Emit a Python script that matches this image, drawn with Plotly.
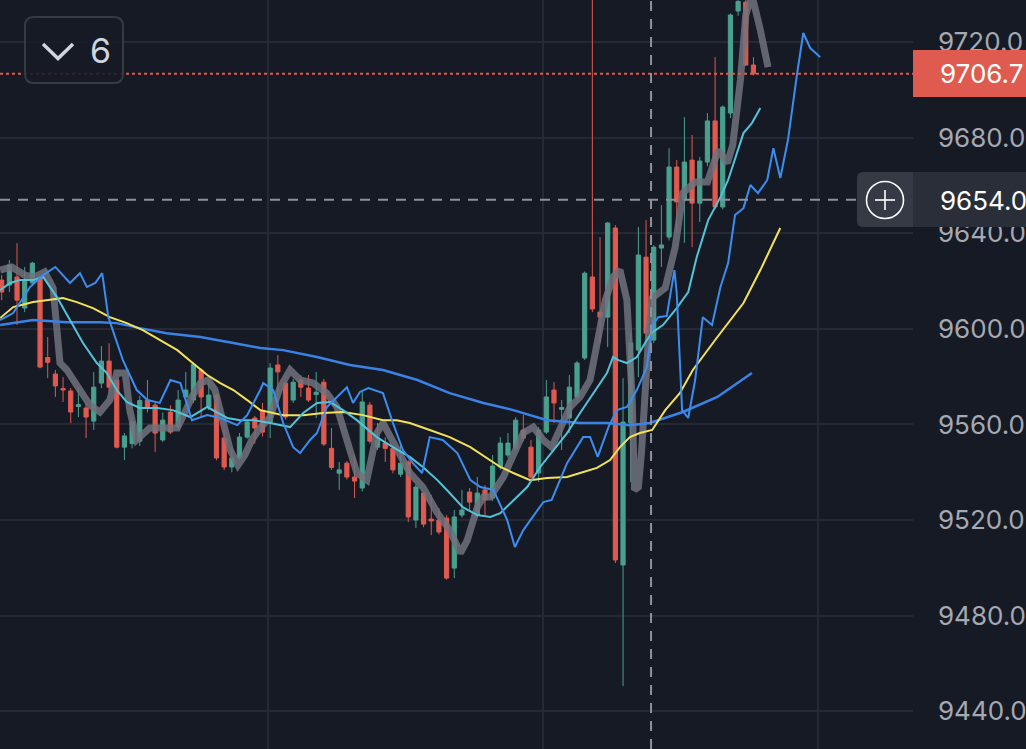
import plotly.graph_objects as go

W, H = 1026, 749
PLOT_W = 913

# ---------------- candle data (index 0..98) ----------------
opens = [9620.4, 9618.3, 9621.7, 9608.7, 9619.2, 9621.7, 9588.0, 9581.1, 9575.0, 9574.0,
         9567.5, 9566.9, 9561.4, 9577.3, 9586.5, 9578.6, 9550.5, 9552.0, 9553.0, 9570.2,
         9568.1, 9553.5, 9565.2, 9559.0, 9571.5, 9570.2, 9582.8, 9567.3, 9572.3, 9554.3,
         9542.2, 9546.0, 9554.7, 9562.7, 9566.0, 9561.0, 9584.9, 9577.3, 9570.2, 9578.6,
         9575.2, 9572.5, 9577.7, 9550.0, 9539.6, 9543.8, 9538.0, 9533.4, 9568.1, 9550.5,
         9552.2, 9550.0, 9539.2, 9544.3, 9520.0, 9531.3, 9520.4, 9520.0, 9520.8, 9499.9,
         9522.1, 9531.7, 9522.1, 9532.6, 9529.2, 9542.2, 9547.2, 9550.1, 9557.7, 9550.5,
         9539.7, 9556.8, 9574.4, 9566.3, 9562.7, 9571.5, 9587.8, 9621.7, 9607.0, 9604.9,
         9642.2, 9501.2, 9560.6, 9591.1, 9630.0, 9595.3, 9633.8, 9638.4, 9667.7, 9653.9,
         9670.6, 9652.6, 9669.8, 9687.0, 9651.0, 9690.3, 9733.0, 9736.7, 9710.4]
highs = [9622.5, 9628.8, 9635.9, 9625.9, 9628.0, 9622.0, 9596.6, 9582.8, 9579.8, 9575.2,
         9575.6, 9569.0, 9581.9, 9592.8, 9594.0, 9579.0, 9556.4, 9563.0, 9572.0, 9578.6,
         9569.0, 9565.0, 9568.0, 9574.4, 9582.0, 9586.0, 9583.5, 9578.6, 9573.0, 9557.7,
         9550.5, 9556.4, 9562.0, 9563.5, 9569.0, 9585.7, 9589.0, 9578.0, 9579.0, 9580.7,
         9580.7, 9581.9, 9579.0, 9558.5, 9544.3, 9544.7, 9547.2, 9573.6, 9569.4, 9560.6,
         9554.7, 9551.0, 9551.4, 9545.0, 9535.0, 9531.5, 9530.5, 9525.0, 9522.0, 9524.2,
         9532.6, 9533.4, 9538.0, 9534.6, 9547.2, 9554.7, 9556.4, 9563.0, 9564.0, 9553.5,
         9558.9, 9578.6, 9577.7, 9570.2, 9580.7, 9586.5, 9624.0, 9745.0, 9638.4, 9644.7,
         9643.4, 9579.4, 9598.2, 9642.6, 9645.5, 9635.0, 9651.8, 9675.6, 9670.6, 9688.6,
         9681.1, 9671.9, 9690.3, 9713.7, 9693.5, 9732.0, 9740.0, 9740.0, 9713.7]
lows = [9612.0, 9615.4, 9601.6, 9607.0, 9618.0, 9583.5, 9579.4, 9571.5, 9569.4, 9560.6,
        9563.1, 9554.3, 9557.7, 9575.2, 9573.6, 9550.0, 9545.1, 9550.0, 9551.0, 9565.0,
        9548.5, 9552.7, 9556.0, 9558.0, 9570.0, 9569.0, 9562.7, 9566.0, 9545.0, 9540.9,
        9540.0, 9545.0, 9554.0, 9552.0, 9555.0, 9554.3, 9567.0, 9562.0, 9569.0, 9571.5,
        9569.4, 9562.7, 9551.0, 9541.0, 9532.6, 9537.0, 9529.2, 9532.0, 9552.0, 9549.3,
        9544.3, 9539.6, 9538.0, 9519.2, 9516.7, 9517.0, 9513.7, 9514.0, 9495.0, 9495.7,
        9521.0, 9524.2, 9521.0, 9522.0, 9528.0, 9541.0, 9546.0, 9549.0, 9553.0, 9537.0,
        9535.9, 9556.0, 9560.6, 9549.3, 9556.4, 9570.0, 9587.0, 9607.0, 9594.0, 9592.4,
        9502.0, 9450.5, 9535.9, 9579.8, 9596.2, 9594.0, 9625.9, 9637.0, 9640.1, 9636.0,
        9634.2, 9644.7, 9668.0, 9650.0, 9650.0, 9688.2, 9731.0, 9710.0, 9706.0]
closes = [9615.4, 9626.7, 9612.0, 9620.4, 9627.5, 9584.0, 9586.0, 9576.1, 9574.4, 9565.2,
          9568.3, 9563.1, 9575.6, 9586.5, 9575.6, 9550.5, 9555.2, 9561.0, 9570.0, 9567.3,
          9556.4, 9561.8, 9556.8, 9570.2, 9574.4, 9585.1, 9571.5, 9572.3, 9546.0, 9542.2,
          9546.0, 9554.7, 9561.0, 9558.5, 9556.8, 9583.6, 9582.0, 9563.1, 9577.7, 9575.6,
          9570.2, 9573.5, 9551.8, 9542.0, 9541.0, 9538.0, 9536.3, 9569.4, 9553.0, 9553.5,
          9550.0, 9541.0, 9543.8, 9521.3, 9533.8, 9518.3, 9519.6, 9515.0, 9495.7, 9521.3,
          9524.2, 9527.5, 9531.3, 9528.4, 9542.6, 9552.2, 9552.2, 9561.8, 9554.3, 9538.0,
          9557.7, 9571.5, 9569.0, 9567.1, 9575.6, 9585.7, 9623.3, 9608.3, 9604.9, 9644.3,
          9503.3, 9561.0, 9594.1, 9630.9, 9598.2, 9634.2, 9635.1, 9667.7, 9653.1, 9669.8,
          9652.6, 9670.2, 9687.0, 9651.0, 9692.8, 9731.3, 9737.0, 9710.4, 9706.7]
bar_index = list(range(len(opens)))

# ---------------- indicator lines ----------------
gray_x = [-0.2, 1.3, 3.0, 4.3, 5.6, 6.7, 7.6, 8.5, 9.95, 11.5, 12.8, 14.1, 15.0, 16.1, 16.7,
          17.6, 19.3, 21.3, 22.9, 23.9, 24.8, 25.9, 26.9, 27.8, 28.7, 29.8, 30.8, 31.7, 32.6,
          33.7, 35.0, 36.3, 37.6, 38.9, 40.6, 42.4, 43.7, 45.0, 46.3, 47.6, 48.3, 48.9, 49.7,
          51.5, 53.2, 54.9, 56.8, 58.4, 59.8, 60.7, 62.0, 62.8, 63.7, 65.4, 66.7, 68.0, 69.3,
          70.6, 71.7, 72.8, 74.1, 75.4, 76.7, 77.7, 78.7, 79.7, 80.6, 81.5, 82.2, 82.5, 83.0,
          83.4, 83.8, 84.3, 84.8, 86.5, 87.8, 88.8, 90.4, 92.0, 93.4, 94.6, 95.3, 96.3, 97.0,
          97.8, 98.9, 99.9]
gray_y = [9624.6, 9625.9, 9622.5, 9621.7, 9623.8, 9617.1, 9585.7, 9582.8, 9575.6, 9568.1,
          9565.2, 9570.2, 9581.5, 9581.5, 9566.0, 9553.5, 9558.5, 9558.5, 9558.5, 9565.2,
          9571.5, 9577.3, 9578.6, 9574.4, 9563.1, 9549.3, 9543.0, 9547.2, 9553.5, 9558.5,
          9563.1, 9575.6, 9582.8, 9578.6, 9577.3, 9573.1, 9567.3, 9553.5, 9539.7, 9536.7,
          9548.0, 9556.4, 9560.6, 9549.3, 9539.7, 9533.8, 9522.9, 9515.8, 9506.2, 9511.6,
          9525.4, 9529.6, 9529.6, 9538.0, 9548.0, 9556.4, 9558.9, 9553.5, 9550.5, 9557.7,
          9567.3, 9571.5, 9578.6, 9595.3, 9612.1, 9621.7, 9624.6, 9612.1, 9570.2, 9532.6,
          9533.8, 9548.0, 9570.2, 9595.3, 9612.9, 9617.1, 9634.2, 9656.8, 9661.4, 9661.4,
          9674.8, 9669.4, 9676.9, 9704.1, 9731.3, 9739.7, 9725.0, 9709.5]

cyan_x = [-0.2, 1.1, 2.4, 4.1, 5.4, 7.2, 8.9, 10.6, 12.4, 13.7, 15.0, 16.3, 18.0, 20.3, 22.3,
          24.6, 26.8, 29.4, 31.1, 32.8, 35.0, 37.6, 39.3, 41.1, 42.8, 44.5, 46.3, 48.9, 51.0,
          53.2, 54.9, 56.8, 58.4, 60.1, 62.0, 63.7, 65.0, 66.7, 68.5, 70.2, 71.9, 73.7, 75.4,
          77.1, 78.9, 79.7, 80.4, 81.5, 82.8, 84.1, 84.8, 86.2, 88.0, 89.5, 90.6, 92.1, 93.7,
          94.7, 95.9, 96.7, 97.8, 98.9]
cyan_y = [9616.2, 9619.2, 9620.4, 9620.4, 9621.7, 9613.3, 9603.7, 9594.1, 9585.7, 9581.5,
          9574.4, 9569.4, 9566.9, 9566.9, 9566.0, 9563.1, 9567.3, 9562.7, 9561.8, 9561.8,
          9560.6, 9558.9, 9564.8, 9569.0, 9569.4, 9566.0, 9561.8, 9554.7, 9550.5, 9546.4,
          9542.2, 9536.7, 9531.3, 9525.4, 9522.1, 9521.3, 9522.9, 9528.4, 9533.8, 9542.2,
          9549.3, 9556.4, 9564.8, 9573.1, 9581.5, 9588.2, 9586.9, 9585.7, 9588.2, 9595.3,
          9598.5, 9601.6, 9608.7, 9615.4, 9630.0, 9645.5, 9655.1, 9662.3, 9673.6, 9681.9,
          9686.1, 9692.4]

yellow_x = [-0.2, 1.5, 4.1, 5.9, 8.0, 9.8, 11.9, 14.1, 16.3, 18.4, 20.6, 22.9, 24.9, 26.8,
            28.5, 30.2, 32.0, 33.7, 36.7, 39.3, 41.9, 44.5, 47.1, 49.7, 51.5, 53.2, 55.8,
            58.4, 61.1, 63.7, 65.0, 66.7, 68.9, 71.1, 73.7, 75.4, 77.6, 79.3, 80.6, 81.9,
            83.2, 84.8, 86.5, 88.4, 90.1, 93.3, 96.7, 98.9, 101.5]
yellow_y = [9604.5, 9609.1, 9611.2, 9612.0, 9612.9, 9611.2, 9608.7, 9604.9, 9602.4, 9599.5,
            9595.3, 9591.1, 9585.7, 9580.7, 9577.3, 9574.4, 9570.2, 9566.0, 9563.9, 9563.9,
            9564.8, 9565.2, 9563.9, 9561.8, 9561.8, 9560.6, 9557.7, 9554.7, 9550.5, 9545.1,
            9542.2, 9539.7, 9536.7, 9537.6, 9538.0, 9539.7, 9541.8, 9545.1, 9550.5, 9554.7,
            9556.4, 9557.7, 9566.0, 9573.1, 9582.8, 9596.6, 9610.8, 9624.6, 9642.2]

slow_x = [-0.2, 2.4, 4.1, 8.5, 12.8, 15.0, 18.0, 21.5, 25.9, 30.2, 33.7, 36.7, 41.1, 45.4,
          49.7, 54.2, 58.4, 62.8, 66.7, 71.1, 75.4, 78.9, 81.9, 84.5, 88.8, 93.3, 97.8]
slow_y = [9601.6, 9602.8, 9603.7, 9602.8, 9602.8, 9602.4, 9600.3, 9598.2, 9596.6, 9594.1,
          9592.0, 9591.1, 9588.2, 9584.9, 9582.8, 9578.6, 9573.1, 9569.0, 9566.0, 9561.8,
          9560.6, 9560.6, 9559.7, 9560.6, 9565.2, 9571.5, 9581.5]

fast_x = [-0.2, 1.5, 3.7, 5.4, 7.0, 8.9, 10.2, 11.1, 12.2, 13.1, 13.9, 15.8, 17.6, 19.0,
          20.6, 22.0, 23.3, 24.8, 26.8, 28.5, 30.7, 32.0, 33.7, 34.1, 35.4, 36.7, 38.0, 38.9,
          40.2, 41.1, 42.4, 43.7, 45.0, 45.8, 46.7, 47.8, 49.7, 51.0, 52.3, 53.6, 54.8, 55.8,
          57.5, 59.4, 61.1, 62.4, 64.1, 65.9, 66.9, 68.0, 70.6, 71.7, 73.7, 75.8, 76.7, 77.7,
          79.1, 80.2, 81.5, 82.8, 84.1, 84.8, 85.6, 86.7, 87.7, 88.0, 88.7, 89.5, 90.4, 91.4,
          92.6, 93.7, 94.7, 95.6, 96.7, 97.6, 98.6, 99.8, 100.6, 101.5, 102.5, 103.7, 104.5,
          105.4, 106.7]
fast_y = [9603.7, 9606.6, 9617.5, 9622.5, 9625.9, 9619.2, 9623.3, 9617.5, 9619.2, 9623.3,
          9604.9, 9586.9, 9574.4, 9570.2, 9569.0, 9578.6, 9577.3, 9561.8, 9563.9, 9562.7,
          9559.7, 9563.9, 9574.4, 9577.3, 9574.4, 9560.6, 9550.5, 9548.0, 9553.5, 9556.4,
          9567.3, 9571.5, 9575.6, 9569.0, 9573.6, 9575.2, 9573.1, 9560.6, 9549.3, 9543.8,
          9539.7, 9554.7, 9553.5, 9548.0, 9536.7, 9533.8, 9532.6, 9520.0, 9508.7, 9515.8,
          9527.5, 9528.4, 9543.8, 9554.7, 9554.7, 9546.4, 9558.9, 9566.0, 9567.3, 9574.4,
          9584.0, 9601.6, 9604.9, 9605.4, 9624.6, 9615.0, 9566.0, 9562.7, 9578.6, 9604.9,
          9601.6, 9617.5, 9627.5, 9647.6, 9650.5, 9660.2, 9656.8, 9662.3, 9675.6, 9663.1,
          9679.0, 9707.0, 9723.8, 9717.5, 9713.7]

y_ticks = [9440, 9480, 9520, 9560, 9600, 9640, 9680, 9720]
y_tick_text = ["%.1f" % v for v in y_ticks]
x_grid = [34.7, 70.6, 106.45]
last_price = 9706.7
cross_price = 9654.0
cross_bar = 84.65

BG = "#161a25"
GREEN = "#4aa08e"
RED = "#e05a4f"
FONT = "Inter, Roboto, sans-serif"

fig = go.Figure()

fig.add_trace(go.Scatter(x=gray_x, y=gray_y, mode="lines",
                         line=dict(color="rgba(112,114,124,0.85)", width=7)))
fig.add_trace(go.Scatter(x=slow_x, y=slow_y, mode="lines",
                         line=dict(color="#3b82e6", width=2.5)))
fig.add_trace(go.Scatter(x=yellow_x, y=yellow_y, mode="lines",
                         line=dict(color="#f2e25a", width=2)))
fig.add_trace(go.Scatter(x=cyan_x, y=cyan_y, mode="lines",
                         line=dict(color="#52c3d8", width=2)))
fig.add_trace(go.Scatter(x=fast_x, y=fast_y, mode="lines",
                         line=dict(color="#3b8ef0", width=2)))

fig.add_trace(go.Candlestick(
    x=bar_index, open=opens, high=highs, low=lows, close=closes,
    increasing=dict(line=dict(color=GREEN, width=1), fillcolor=GREEN),
    decreasing=dict(line=dict(color=RED, width=1), fillcolor=RED),
    whiskerwidth=0, hoverinfo="skip"))


def px(x):
    return x / PLOT_W


def py(y):
    return 1 - y / H


def rrect(x0, y0, x1, y1, r):
    rx, ry = r / PLOT_W, r / H
    X0, X1, Y0, Y1 = px(x0), px(x1), py(y0), py(y1)
    return (f"M{X0+rx},{Y0} L{X1-rx},{Y0} Q{X1},{Y0} {X1},{Y0-ry} "
            f"L{X1},{Y1+ry} Q{X1},{Y1} {X1-rx},{Y1} L{X0+rx},{Y1} "
            f"Q{X0},{Y1} {X0},{Y1+ry} L{X0},{Y0-ry} Q{X0},{Y0} {X0+rx},{Y0} Z")


def lrect(x0, y0, x1, y1, r):
    # rounded on the left side only
    rx, ry = r / PLOT_W, r / H
    X0, X1, Y0, Y1 = px(x0), px(x1), py(y0), py(y1)
    return (f"M{X0+rx},{Y0} L{X1},{Y0} L{X1},{Y1} L{X0+rx},{Y1} "
            f"Q{X0},{Y1} {X0},{Y1+ry} L{X0},{Y0-ry} Q{X0},{Y0} {X0+rx},{Y0} Z")


shapes = []
shapes.append(dict(type="line", xref="paper", yref="y", x0=0, x1=1,
                   y0=last_price, y1=last_price,
                   line=dict(color=RED, width=2, dash="3px,3px"), layer="above"))
shapes.append(dict(type="line", xref="x", yref="paper", x0=cross_bar, x1=cross_bar,
                   y0=0, y1=1, line=dict(color="#8e9199", width=2, dash="10px,8px"),
                   layer="above"))
shapes.append(dict(type="line", xref="paper", yref="y", x0=0, x1=px(857),
                   y0=cross_price, y1=cross_price,
                   line=dict(color="#8e9199", width=2, dash="10px,8px"), layer="above"))
shapes.append(dict(type="path", xref="paper", yref="paper", path=rrect(25, 17, 123, 83, 9),
                   fillcolor="rgba(22,26,37,0.88)", line=dict(color="#363a45", width=2),
                   layer="above"))
shapes.append(dict(type="path", xref="paper", yref="paper",
                   path=f"M{px(43)},{py(44)} L{px(58)},{py(58.5)} L{px(73)},{py(44)}",
                   line=dict(color="#d1d4dc", width=3.5), layer="above"))
shapes.append(dict(type="rect", xref="paper", yref="paper", x0=1.0, x1=px(1030),
                   y0=py(97), y1=py(50), fillcolor="#df5b50", line=dict(width=0),
                   layer="above"))
shapes.append(dict(type="rect", xref="paper", yref="paper", x0=1.0, x1=px(1030),
                   y0=py(227), y1=py(172), fillcolor="#2a2e39", line=dict(width=0),
                   layer="above"))
shapes.append(dict(type="path", xref="paper", yref="paper", path=lrect(857, 172, 913, 227, 6),
                   fillcolor="#363a45", line=dict(width=0), layer="above"))
shapes.append(dict(type="circle", xref="paper", yref="paper",
                   x0=px(885 - 18.5), x1=px(885 + 18.5), y0=py(200 + 18.5), y1=py(200 - 18.5),
                   line=dict(color="#ffffff", width=1.6), layer="above"))
shapes.append(dict(type="line", xref="paper", yref="paper",
                   x0=px(875), x1=px(895), y0=py(200), y1=py(200),
                   line=dict(color="#ffffff", width=1.6), layer="above"))
shapes.append(dict(type="line", xref="paper", yref="paper",
                   x0=px(885), x1=px(885), y0=py(190), y1=py(210),
                   line=dict(color="#ffffff", width=1.6), layer="above"))

annotations = [
    dict(xref="paper", yref="paper", x=px(100), y=py(50), text="6", showarrow=False,
         font=dict(family=FONT, size=34, color="#d1d4dc"),
         xanchor="center", yanchor="middle"),
    dict(xref="paper", yref="paper", x=px(938), y=py(74), text="%.1f" % last_price,
         showarrow=False, xanchor="left", yanchor="middle",
         font=dict(family=FONT, size=26, color="#ffffff")),
    dict(xref="paper", yref="paper", x=px(938), y=py(200), text="%.1f" % cross_price,
         showarrow=False, xanchor="left", yanchor="middle",
         font=dict(family=FONT, size=26, color="#ffffff")),
]

fig.update_layout(
    width=W, height=H, margin=dict(l=0, r=W - PLOT_W, t=0, b=0, autoexpand=False),
    paper_bgcolor=BG, plot_bgcolor=BG, showlegend=False, hovermode=False,
    boxgap=0.22,
    shapes=shapes, annotations=annotations,
    xaxis=dict(range=[-0.22, 118.8], showticklabels=False, tickvals=x_grid,
               gridcolor="#252934", gridwidth=1.5, zeroline=False, showline=False,
               rangeslider=dict(visible=False), fixedrange=True, automargin=False),
    yaxis=dict(range=[9424.2, 9737.6], side="right", tickvals=y_ticks, ticktext=y_tick_text,
               gridcolor="#252934", gridwidth=1.5, zeroline=False, showline=False, ticks="",
               ticklabelstandoff=24, automargin=False,
               tickfont=dict(family=FONT, size=26, color="#a6a9b1"),
               fixedrange=True),
)

fig.write_html("out.html", config={"displayModeBar": False},
               post_script="document.body.style.margin='0';document.body.style.background='#161a25';document.body.style.overflow='hidden';")
